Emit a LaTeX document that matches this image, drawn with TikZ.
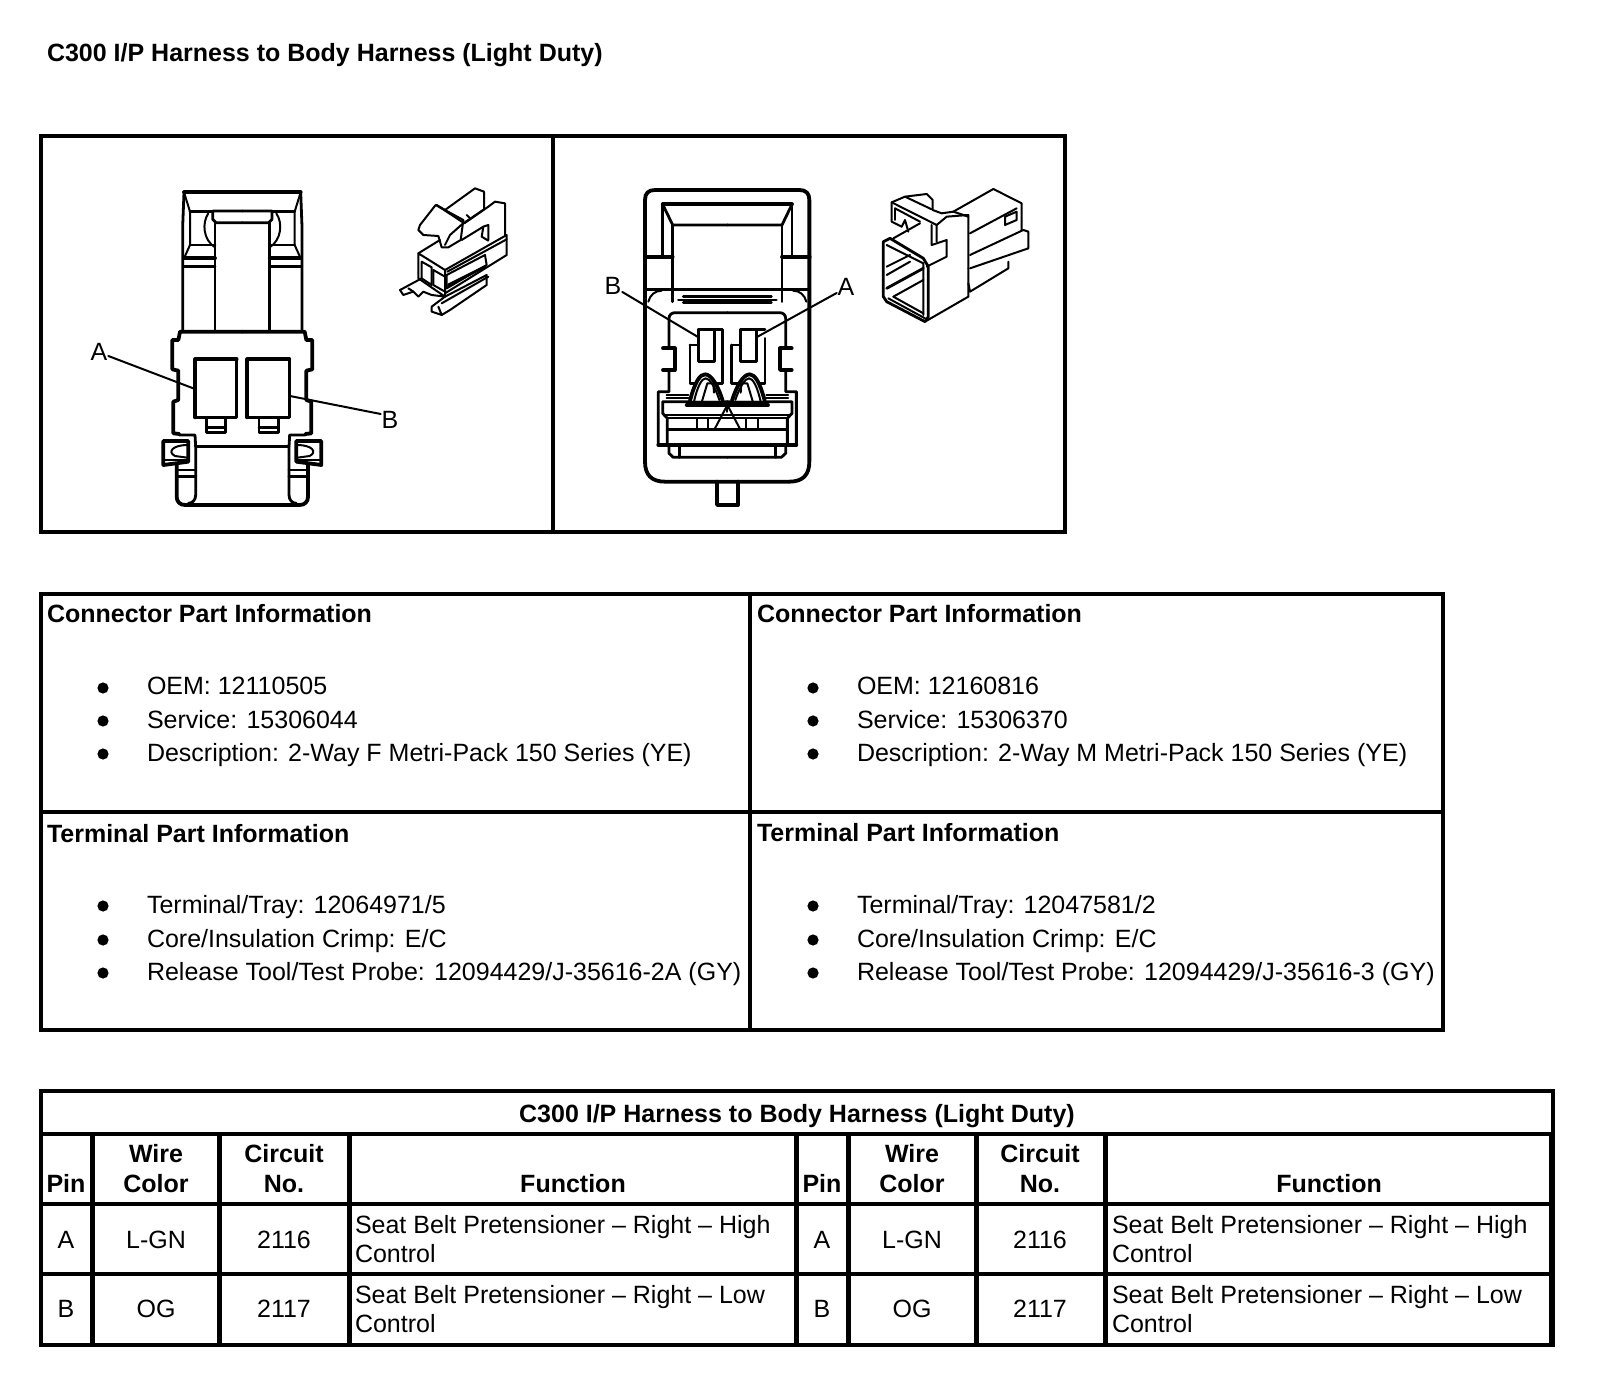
\documentclass[tikz,border=0pt]{standalone}
\usepackage{fontspec}
\setmainfont{Liberation Sans}
\tikzset{
  txt/.style={inner sep=0pt,outer sep=0pt,anchor=base west,font=\fontsize{12.5}{14}\selectfont},
  ctr/.style={inner sep=0pt,outer sep=0pt,anchor=base,font=\fontsize{12.5}{14}\selectfont},
  bld/.style={txt,font=\fontsize{12.5}{14}\selectfont\bfseries},
  bldc/.style={ctr,font=\fontsize{12.5}{14}\selectfont\bfseries},
  lbl/.style={inner sep=0pt,outer sep=0pt,anchor=center,font=\fontsize{12.5}{14}\selectfont},
  bul/.style={circle,fill=black,inner sep=0pt,minimum size=5.6pt},
  frame/.style={line width=2pt,line cap=rect},
  ln/.style={line width=1.4pt,line join=round,line cap=round},
  hv/.style={line width=1.9pt,line join=round,line cap=round},
  fn/.style={line width=1pt,line join=round,line cap=round},
  iso/.style={line width=1pt,line join=round,line cap=round},
  lead/.style={line width=1pt,line cap=round}
}
\newcommand{\lchalf}{%
  \draw[hv] (547,97)--(372,97);
  \draw[ln] (372,97)--(368,200)--(368,515);
  \draw[fn] (372,97)--(390,155)--(390,255)--(372,295);
  \draw[ln] (390,155)--(458,155);
  \draw[ln] (390,255)--(465,255);
  \draw[hv] (372,295)--(465,295);
  \draw[ln] (372,320)--(465,320);
  \draw[ln] (465,188)--(465,515);
  \draw[ln] (547,153)--(458,153)--(458,178)--(468,188)--(547,188);
  \draw[fn] (445,160) .. controls (425,190) and (430,240) .. (465,262);
  \draw[hv] (547,515)--(360,515)--(355,540)--(337,540)--(337,628)--(355,632)--(355,720)--(340,725)--(340,820)--(358,822);
  \draw[ln] (358,825)--(405,825)--(407,860)--(407,1005) .. controls (407,1020) and (397,1030) .. (385,1030);
  \draw[hv] (350,905)--(350,1010) .. controls (350,1025) and (360,1035) .. (375,1035)--(547,1035);
  \draw[ln] (407,860)--(547,860);
  \draw[ln] (350,930)--(407,930);
  \draw[ln] (350,950)--(407,950);
  \draw[hv,fill=white] (310,843)--(385,843)--(385,905)--(310,915)--cycle;
  \draw[ln] (310,900)--(385,900);
  \draw[fn] (382,855) .. controls (340,855) and (320,875) .. (345,888) -- (382,893);
}
\newcommand{\rchalf}{%
  \draw[hv] (412,103)--(218,103);
  \draw[ln] (218,103)--(218,260);
  \draw[ln] (218,103)--(248,165)--(412,165);
  \draw[ln] (248,165)--(248,395);
  \draw[hv] (165,260)--(248,260);
  \draw[ln] (165,358)--(412,358);
  \draw[fn] (175,395) .. controls (180,375) and (195,362) .. (215,362);
  \draw[ln] (412,380)--(280,380);
  \draw[ln] (412,390)--(265,390);
  \draw[ln] (412,398)--(280,398);
  \draw[ln] (412,428)--(255,428) .. controls (245,428) and (237,435) .. (237,445)--(237,535);
  \draw[hv] (219,535)--(254,535)--(254,600)--(219,600);
  \draw[ln] (237,600)--(237,665)--(205,665)--(205,825)--(237,825)--(237,850)--(250,862)--(412,862);
  \draw[ln] (268,825)--(268,862);
  \draw[ln] (412,695)--(218,695)--(218,730)--(232,745)--(232,825);
  \draw[ln] (222,735)--(412,735);
  \draw[fn] (232,745)--(412,745);
  \draw[ln] (232,778)--(412,778);
  \draw[hv] (205,825)--(412,825);
  \draw[fn] (320,745)--(320,775);
  \draw[fn] (355,745)--(355,775);
  \draw[fn] (375,775)--(412,705);
  \draw[hv] (290,705)--(412,705);
  \draw[fn] (230,675)--(295,675);
  \draw[fn] (230,685)--(295,685);
  \draw[fn] (412,705)--(412,725);
}
\newcommand{\rcarch}{%
  \draw[hv,fill=white] (300,692) .. controls (315,635) and (330,613) .. (345,613) .. controls (365,613) and (385,650) .. (398,692);
  \draw[fn] (312,695) .. controls (322,650) and (335,625) .. (347,625) .. controls (358,625) and (375,650) .. (388,690);
  \draw[fn] (335,697)--(352,640)--(370,640)--(372,668);
}
\begin{document}
\begin{tikzpicture}[x=0.5pt,y=-0.5pt]
\useasboundingbox (0,0) rectangle (1600,1384);
\fill[white] (0,0) rectangle (1600,1384);

\node[bld] (title) at (47,62) {C300 I/P Harness to Body Harness (Light Duty)};

% upper frame
\draw[frame] (41,136) rectangle (1065,532);
\draw[frame] (553,136)--(553,532);

% left connector, front view
\begin{scope}[shift={(60,160)},x=0.16667pt,y=-0.16667pt]
  \lchalf
  \begin{scope}[shift={(1094,0)},x=-0.16667pt]
    \lchalf
  \end{scope}
  \draw[hv] (406,772)--(406,598)--(530,598);
  \draw[ln] (530,598)--(530,772)--(406,772);
  \draw[hv] (562,772)--(562,598)--(688,598);
  \draw[ln] (688,598)--(688,772)--(562,772);
  \draw[ln] (440,772)--(440,818)--(497,818)--(497,772);
  \draw[ln] (440,803)--(497,803);
  \draw[ln] (597,772)--(597,818)--(655,818)--(655,772);
  \draw[ln] (597,803)--(655,803);
\end{scope}
\node[lbl] (la) at (99,352) {A};
\coordinate (laend) at (195,389);
\draw[lead] (la.east) ++(1,4) -- (laend);
\node[lbl] (lb) at (390,420) {B};
\coordinate (lbend) at (290,396);
\draw[lead] (lb.west) ++(-1,-6) -- (lbend);

% left isometric
\begin{scope}[shift={(370,160)},x=0.16667pt,y=-0.16667pt]
  \draw[iso] (200,135)--(225,150)--(315,85)--(342,95)--(342,148)--(283,188);
  \draw[iso] (150,195)--(197,135)--(280,180)--(272,240)--(235,262)--(215,262)--(205,228)--(160,225)--(145,210)--cycle;
  \draw[iso] (207,140)--(280,188);
  \draw[iso] (225,255)--(240,225)--(277,192);
  \draw[iso] (290,165)--(300,175);
  \draw[iso] (283,190)--(355,140)--(375,125)--(405,130)--(405,225);
  \draw[iso] (275,240)--(340,200)--(355,195)--(355,240);
  \draw[iso] (340,200)--(335,230)--(355,242);
  \draw[iso] (210,240)--(145,280);
  \draw[iso] (145,280)--(145,355)--(225,410)--(225,330)--cycle;
  \draw[iso] (225,330)--(410,225)--(410,285)--(225,400);
  \draw[iso] (155,305)--(185,322)--(185,375)--(155,355)--cycle;
  \draw[iso] (190,330)--(225,350)--(225,395)--(190,375)--cycle;
  \draw[iso] (230,345)--(345,285)--(350,315)--(230,385)--cycle;
  \draw[ln] (235,375)--(345,320);
  \draw[iso] (225,410)--(350,345)--(350,375)--(240,450)--(215,465)--(185,455)--(185,440)--(225,410);
  \draw[iso] (205,440)--(215,465);
  \draw[iso] (215,430)--(355,350);
  \draw[iso] (155,355)--(90,390)--(100,405)--(130,395)--(145,410)--(160,395)--(185,405)--(225,410);
  \draw[iso] (115,385)--(130,395);
  \draw[iso] (232,335)--(410,238);
\end{scope}

% right connector, front view
\begin{scope}[shift={(590,170)},x=0.16667pt,y=-0.16667pt]
  \draw[hv] (195,60)--(628,60) .. controls (648,60) and (658,70) .. (658,90)--(658,875) .. controls (658,915) and (638,935) .. (598,935)--(225,935) .. controls (185,935) and (165,915) .. (165,875)--(165,90) .. controls (165,70) and (175,60) .. (195,60)--cycle;
  \draw[hv] (381,935)--(381,1005)--(444,1005)--(444,935);
  \rchalf
  \begin{scope}[shift={(824,0)},x=-0.16667pt]
    \rchalf
  \end{scope}
  \draw[ln] (325,478)--(397,478)--(397,640)--(370,640);
  \draw[ln] (300,525)--(325,525);
  \draw[ln] (300,525)--(300,640)--(330,640);
  \draw[ln] (325,478)--(325,575)--(373,575)--(373,478);
  \draw[ln] (452,478)--(525,478);
  \draw[ln] (452,478)--(452,575)--(500,575)--(500,478);
  \draw[ln] (425,525)--(452,525);
  \draw[ln] (425,525)--(425,640)--(450,640);
  \draw[ln] (525,505)--(525,640)--(490,640);
  \rcarch
  \begin{scope}[shift={(824,0)},x=-0.16667pt]
    \rcarch
  \end{scope}
\end{scope}
\node[lbl] (rb) at (613,286) {B};
\coordinate (rbend) at (698,337);
\draw[lead] (rb.east) ++(1,6) -- (rbend);
\node[lbl] (ra) at (846,287) {A};
\coordinate (raend) at (757,337);
\draw[lead] (ra.west) ++(-1,6) -- (raend);

% right isometric
\begin{scope}[shift={(860,170)},x=0.16667pt,y=-0.16667pt]
  \draw[iso] (95,97)--(230,165)--(230,215);
  \draw[iso] (95,97)--(135,80)--(200,72)--(218,90)--(218,120);
  \draw[iso] (135,80)--(215,118);
  \draw[iso] (95,97)--(95,155)--(125,170);
  \draw[iso] (105,115)--(105,150);
  \draw[iso] (105,115)--(180,155);
  \draw[iso] (230,165)--(260,140)--(325,135)--(325,295);
  \draw[iso] (280,125)--(400,57)--(485,100)--(485,180);
  \draw[iso] (218,120)--(245,130)--(280,125)--(325,140);
  \draw[iso] (215,165)--(215,225)--(260,210)--(260,260)--(200,290);
  \draw[iso] (330,190)--(470,115);
  \draw[iso] (330,255)--(490,180)--(505,185)--(505,235)--(330,295);
  \draw[iso] (445,275)--(445,295)--(330,365)--(325,340);
  \draw[iso] (195,455)--(325,380)--(325,295);
  \draw[ln] (70,215)--(90,205)--(190,265)--(205,290)--(205,440)--(195,455)--(80,395)--(70,380)--cycle;
  \draw[iso] (80,225)--(190,280)--(190,435);
  \draw[iso] (85,385)--(195,445);
  \draw[iso] (100,380)--(190,430);
  \draw[iso] (100,380)--(190,330);
  \draw[ln] (80,355)--(190,295);
  \draw[iso] (80,290)--(150,255);
  \draw[iso] (80,315)--(150,275);
  \draw[iso] (435,140)--(470,125)--(470,150)--(435,165)--cycle;
  \draw[iso] (125,170)--(135,150)--(145,185);
  \draw[iso] (100,205)--(180,160);
\end{scope}

% part information table
\draw[frame] (41,594) rectangle (1443,1030);
\draw[frame] (750,594)--(750,1030);
\draw[frame] (41,812)--(1443,812);

\node[bld] (c1) at (47,623) {Connector Part Information};
\node[bld] (c2) at (757,623) {Connector Part Information};
\node[bld] (t1) at (47,842) {Terminal Part Information};
\node[bld] (t2) at (757,841) {Terminal Part Information};

\node[bul] (b1) at (103,688) {}; \node[txt] (x1) at (147,695) {OEM: 12110505};
\node[bul] (b2) at (103,721) {}; \node[txt] (x2) at (147,728) {Service: 15306044};
\node[bul] (b3) at (103,754) {}; \node[txt] (x3) at (147,761) {Description: 2-Way F Metri-Pack 150 Series (YE)};
\node[bul] (b4) at (103,906) {}; \node[txt] (x4) at (147,913) {Terminal/Tray: 12064971/5};
\node[bul] (b5) at (103,940) {}; \node[txt] (x5) at (147,947) {Core/Insulation Crimp: E/C};
\node[bul] (b6) at (103,973) {}; \node[txt] (x6) at (147,980) {Release Tool/Test Probe: 12094429/J-35616-2A (GY)};

\node[bul] (b7) at (813,688) {}; \node[txt] (y1) at (857,695) {OEM: 12160816};
\node[bul] (b8) at (813,721) {}; \node[txt] (y2) at (857,728) {Service: 15306370};
\node[bul] (b9) at (813,754) {}; \node[txt] (y3) at (857,761) {Description: 2-Way M Metri-Pack 150 Series (YE)};
\node[bul] (b10) at (813,906) {}; \node[txt] (y4) at (857,913) {Terminal/Tray: 12047581/2};
\node[bul] (b11) at (813,940) {}; \node[txt] (y5) at (857,947) {Core/Insulation Crimp: E/C};
\node[bul] (b12) at (813,973) {}; \node[txt] (y6) at (857,980) {Release Tool/Test Probe: 12094429/J-35616-3 (GY)};

% wiring table
\draw[line width=1.6pt] (41,1091) rectangle (1553,1345);
\draw[line width=1.6pt] (41,1134)--(1553,1134);
\draw[line width=2.4pt] (41,1204)--(1553,1204);
\draw[line width=2.4pt] (41,1274)--(1553,1274);
\draw[line width=2.4pt] (41,1345)--(1553,1345);
\foreach \xv in {92.5,219,349,796,848,976,1105,1551}
  \draw[line width=2.5pt] (\xv,1134)--(\xv,1345);

\node[bldc] (tt) at (797,1122) {C300 I/P Harness to Body Harness (Light Duty)};

\node[bldc] (h1) at (66,1192) {Pin};
\node[bldc] (h2) at (156,1162) {Wire};
\node[bldc] (h3) at (156,1192) {Color};
\node[bldc] (h4) at (284,1162) {Circuit};
\node[bldc] (h5) at (284,1192) {No.};
\node[bldc] (h6) at (573,1192) {Function};
\node[bldc] (h7) at (822,1192) {Pin};
\node[bldc] (h8) at (912,1162) {Wire};
\node[bldc] (h9) at (912,1192) {Color};
\node[bldc] (h10) at (1040,1162) {Circuit};
\node[bldc] (h11) at (1040,1192) {No.};
\node[bldc] (h12) at (1329,1192) {Function};

\node[ctr] (a1) at (66,1248) {A};
\node[ctr] (a2) at (156,1248) {L-GN};
\node[ctr] (a3) at (284,1248) {2116};
\node[txt] (a4) at (355,1233) {Seat Belt Pretensioner – Right – High};
\node[txt] (a5) at (355,1262) {Control};
\node[ctr] (a6) at (822,1248) {A};
\node[ctr] (a7) at (912,1248) {L-GN};
\node[ctr] (a8) at (1040,1248) {2116};
\node[txt] (a9) at (1112,1233) {Seat Belt Pretensioner – Right – High};
\node[txt] (a10) at (1112,1262) {Control};

\node[ctr] (e1) at (66,1317) {B};
\node[ctr] (e2) at (156,1317) {OG};
\node[ctr] (e3) at (284,1317) {2117};
\node[txt] (e4) at (355,1303) {Seat Belt Pretensioner – Right – Low};
\node[txt] (e5) at (355,1332) {Control};
\node[ctr] (e6) at (822,1317) {B};
\node[ctr] (e7) at (912,1317) {OG};
\node[ctr] (e8) at (1040,1317) {2117};
\node[txt] (e9) at (1112,1303) {Seat Belt Pretensioner – Right – Low};
\node[txt] (e10) at (1112,1332) {Control};
\end{tikzpicture}
\end{document}
